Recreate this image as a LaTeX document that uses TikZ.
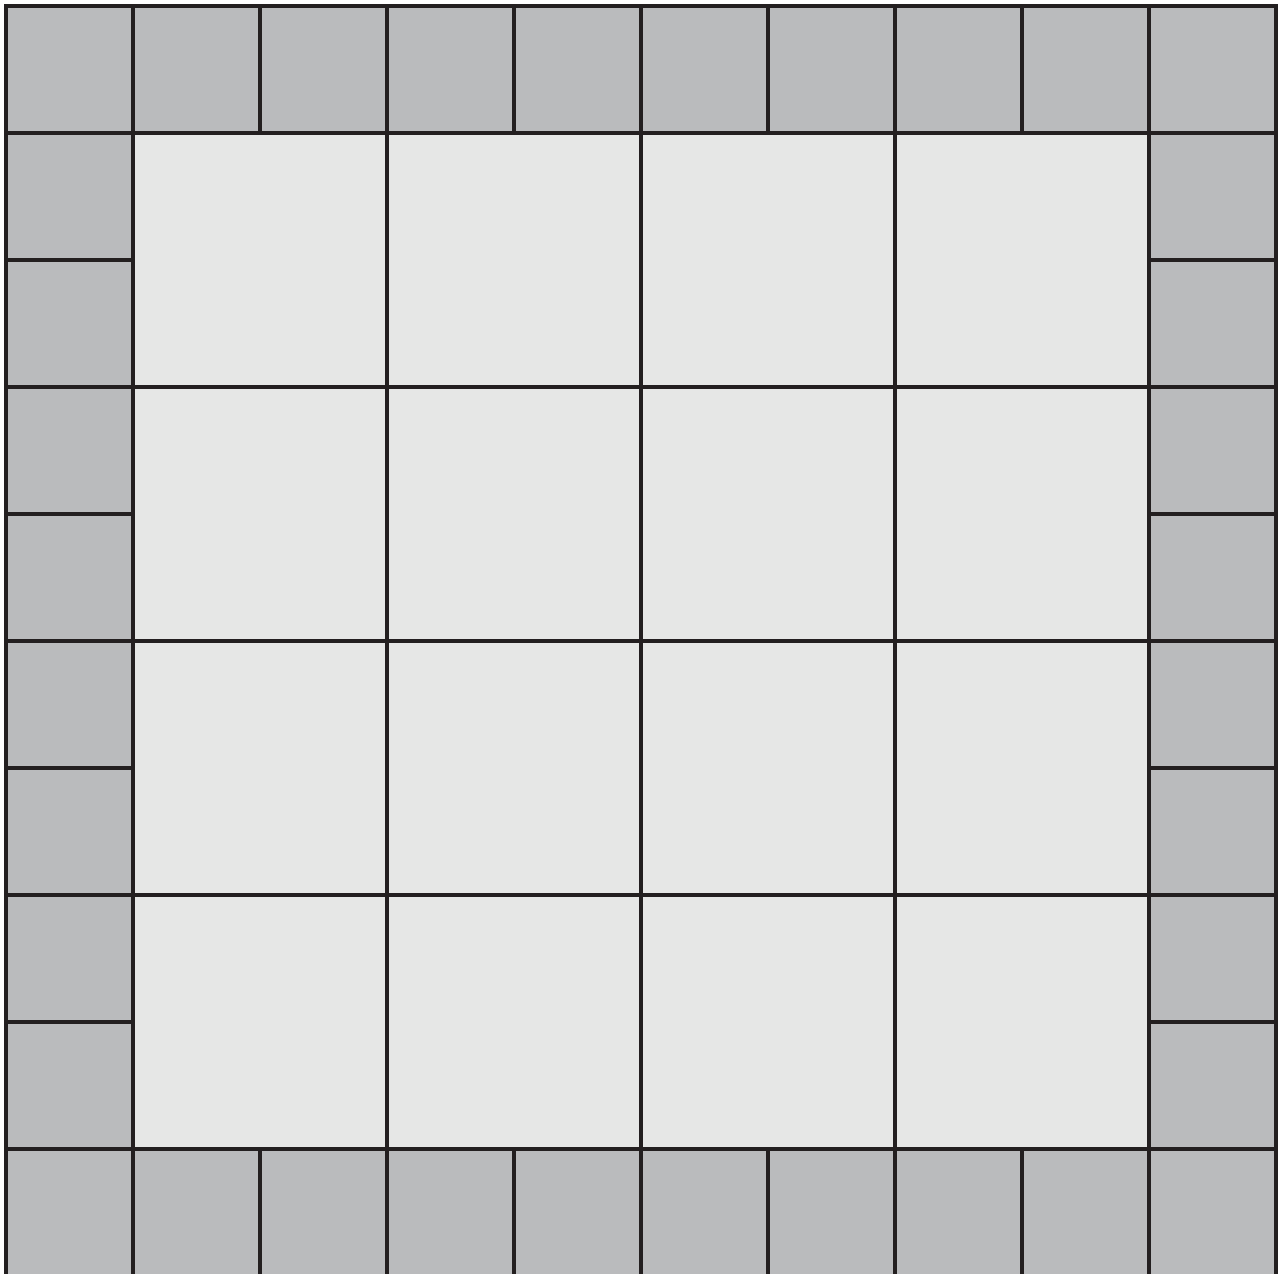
\documentclass[tikz,border=0pt]{standalone}
\usepackage{xcolor}
\definecolor{tileGray}{RGB}{186,187,189}
\definecolor{tileLight}{RGB}{230,231,230}
\definecolor{groutLine}{RGB}{35,31,32}

\begin{document}
\begin{tikzpicture}[
    small_tile/.style ={draw=groutLine, fill=tileGray, line width=0.8pt},
    big_tile/.style ={draw=groutLine, fill=tileLight, line width=0.8pt}]
    \useasboundingbox (-0.047,0.016) rectangle (10.024,10.047);
    % border - top and bottom rows
    \foreach \x in {0,...,9} {
      \path [small_tile] (\x,9) rectangle ++(1,1);
      \path [small_tile] (\x,0) rectangle ++(1,1);
    }
    % border - left and right columns
    \foreach \y in {1,...,8} {
      \path [small_tile] (0,\y) rectangle ++(1,1);
      \path [small_tile] (9,\y) rectangle ++(1,1);
    }
    % centre - 4x4 big tiles
    \foreach \x in {1,3,5,7}
      \foreach \y in {1,3,5,7}
        \path [big_tile] (\x,\y) rectangle ++(2,2);
  \end{tikzpicture}
\end{document}
